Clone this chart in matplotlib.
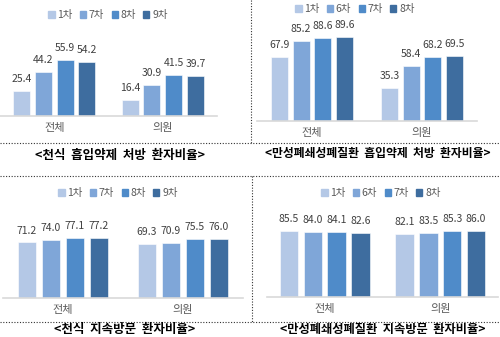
import matplotlib
matplotlib.use('Agg')
import matplotlib.pyplot as plt
from matplotlib.lines import Line2D
from matplotlib.patches import Patch

plt.rcParams['font.family'] = ['Noto Sans CJK KR', 'DejaVu Sans']

# data
categories = ['전체', '의원']

asthma_rx_rounds = ['1차', '7차', '8차', '9차']
asthma_rx_vals = [[25.4, 16.4], [44.2, 30.9], [55.9, 41.5], [54.2, 39.7]]

copd_rx_rounds = ['1차', '6차', '7차', '8차']
copd_rx_vals = [[67.9, 35.3], [85.2, 58.4], [88.6, 68.2], [89.6, 69.5]]

asthma_visit_rounds = ['1차', '7차', '8차', '9차']
asthma_visit_vals = [[71.2, 69.3], [74.0, 70.9], [77.1, 75.5], [77.2, 76.0]]

copd_visit_rounds = ['1차', '6차', '7차', '8차']
copd_visit_vals = [[85.5, 82.1], [84.0, 83.5], [84.1, 85.3], [82.6, 86.0]]

titles = ['<천식  흡입약제  처방  환자비율>',
          '<만성폐쇄성폐질환  흡입약제  처방  환자비율>',
          '<천식  지속방문  환자비율>',
          '<만성폐쇄성폐질환  지속방문  환자비율>']

colors = ['#b4c8e6', '#7fa6d8', '#4f8bc9', '#3e6d9f']
text_c = '#404040'

W, H = 500, 337
fig = plt.figure(figsize=(W / 100, H / 100), dpi=100)


def px_axes(x0, x1, base, height):
    return fig.add_axes([x0 / W, 1 - base / H, (x1 - x0) / W, height / H])


def draw_panel(x0, x1, base, height, rounds, vals, step, width, leg_y, leg_x):
    ax = px_axes(x0, x1, base, height)
    n = len(rounds)
    for i, (r, v) in enumerate(zip(rounds, vals)):
        pos = [c + (i - (n - 1) / 2) * step for c in range(len(categories))]
        bars = ax.bar(pos, v, width=width, color=colors[i], edgecolor='white', linewidth=0.4)
        for b, val in zip(bars, v):
            ax.annotate(f'{val:.1f}', (b.get_x() + b.get_width() / 2, b.get_height()),
                        xytext=(0, 5), textcoords='offset points', ha='center', va='bottom',
                        fontsize=7.5, color=text_c)
    ax.set_xlim(-0.5, 1.5)
    ax.set_ylim(0, 100)
    ax.set_xticks(range(len(categories)))
    ax.set_xticklabels(categories, fontsize=8, color='#595959')
    ax.tick_params(axis='x', length=0, pad=5)
    ax.set_yticks([])
    for s in ['top', 'right', 'left']:
        ax.spines[s].set_visible(False)
    ax.spines['bottom'].set_color('#d9d9d9')
    ax.spines['bottom'].set_linewidth(1.2)
    ax.patch.set_alpha(0)
    handles = [Patch(color=colors[i], label=r) for i, r in enumerate(rounds)]
    fig.legend(handles=handles, ncol=4, frameon=False, loc='center',
               bbox_to_anchor=(leg_x / W, 1 - leg_y / H), fontsize=7.5,
               handlelength=0.6, handleheight=0.6, handletextpad=0.25,
               columnspacing=0.7, labelcolor='#595959')
    return ax


draw_panel(0, 217, 116, 100, asthma_rx_rounds, asthma_rx_vals, 0.2, 0.157, 15, 108)
draw_panel(257, 477, 121, 94, copd_rx_rounds, copd_rx_vals, 0.197, 0.155, 9, 355)
draw_panel(3, 243, 298, 78, asthma_visit_rounds, asthma_visit_vals, 0.2, 0.155, 193, 118)
draw_panel(267, 498, 297, 77, copd_visit_rounds, copd_visit_vals, 0.207, 0.16, 193, 381)

# panel titles
title_pos = [(120, 155), (378, 154), (125, 329), (383, 329)]
title_size = [9, 8.5, 9, 8.8]
for t, (tx, ty), fs in zip(titles, title_pos, title_size):
    fig.text(tx / W, 1 - ty / H, t, ha='center', va='center', fontsize=fs,
             fontweight='bold', color='black')

# dotted separators
def dline(xa, ya, xb, yb):
    fig.add_artist(Line2D([xa / W, xb / W], [1 - ya / H, 1 - yb / H],
                          transform=fig.transFigure, color='#333333',
                          linestyle=(0, (1, 1.5)), linewidth=0.8))

dline(0, 143, 500, 143)
dline(0, 176, 500, 176)
dline(0, 322, 500, 322)
dline(251, 0, 251, 143)
dline(252, 176, 252, 322)

fig.savefig('out.png', dpi=100)
